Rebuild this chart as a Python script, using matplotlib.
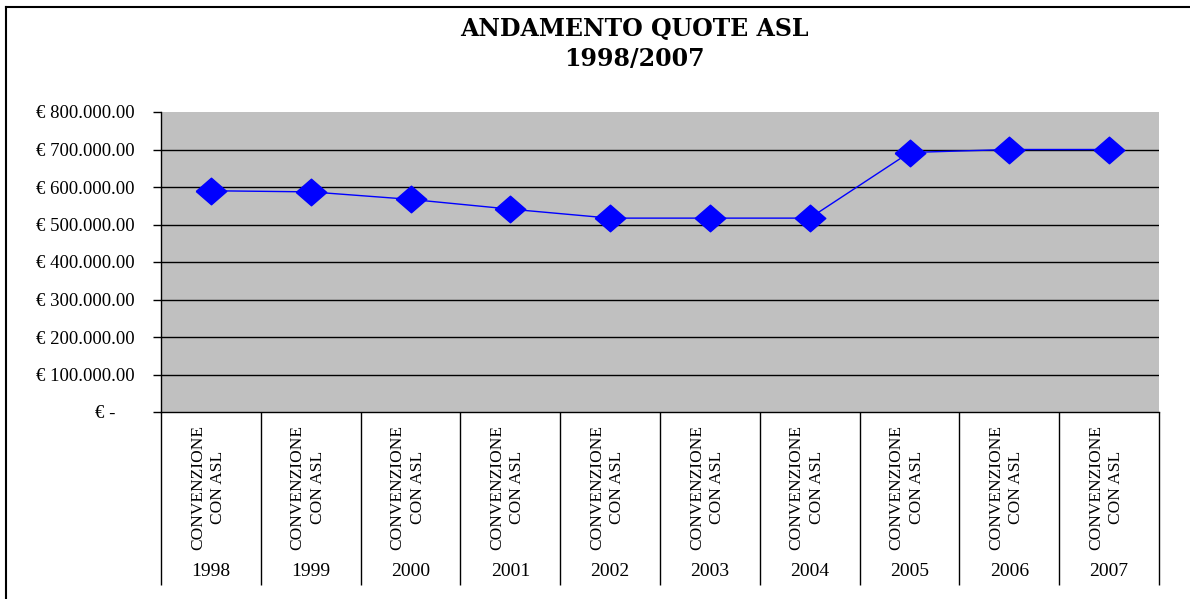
import numpy as np
import matplotlib
matplotlib.use('Agg')
import matplotlib.pyplot as plt
from matplotlib.lines import Line2D

years = ['1998', '1999', '2000', '2001', '2002', '2003', '2004', '2005', '2006', '2007']
category = 'CONVENZIONE\nCON ASL'
quote = [590000, 587000, 567000, 541000, 517000, 517000, 517000, 692000, 700000, 700000]
yticks = [0, 100000, 200000, 300000, 400000, 500000, 600000, 700000, 800000]

W, H = 1190, 599
fig = plt.figure(figsize=(W / 100, H / 100), dpi=100)
plt.rcParams['font.family'] = ['Liberation Serif', 'DejaVu Serif']

# outer chart frame: only the top and left edges are inside the picture
fig.add_artist(Line2D([6 / W, 6 / W], [-0.05, 1 - 7 / H], transform=fig.transFigure,
                      color='black', linewidth=1.5))
fig.add_artist(Line2D([6 / W, 1.05], [1 - 7 / H, 1 - 7 / H], transform=fig.transFigure,
                      color='black', linewidth=1.5))

# plot area in pixel coords: x 161..1159, y 112..412
ax = fig.add_axes([161 / W, (H - 412) / H, 998 / W, 300 / H])
ax.set_facecolor('#c0c0c0')

x = np.arange(len(years))
diamond = [(-1, 0), (0, 0.87), (1, 0), (0, -0.87), (-1, 0)]
ax.plot(x, quote, color='#0000ff', linewidth=1.0, marker=diamond, markersize=22,
        markerfacecolor='#0000ff', markeredgecolor='#0000ff', zorder=3)

ax.set_xlim(-0.5, len(years) - 0.5)
ax.set_ylim(0, 800000)
ax.set_yticks(yticks)
labels = ['€ ' + '{:,}'.format(v).replace(',', '.') + '.00' for v in yticks]
labels[0] = '€ -    '
ax.set_yticklabels(labels, fontsize=13.5)
ax.tick_params(axis='y', length=6, width=1, pad=13, color='black')
ax.tick_params(axis='x', bottom=False, labelbottom=False)

for v in yticks[1:-1]:
    ax.axhline(v, color='black', linewidth=1.0, zorder=1)

for s in ['top', 'right']:
    ax.spines[s].set_visible(False)
ax.spines['left'].set_linewidth(1.0)
ax.spines['bottom'].set_linewidth(1.0)

# multi-level category axis
xt = ax.get_xaxis_transform()
ax.vlines(np.arange(len(years) + 1) - 0.5, -(585 - 412) / 300, 0, transform=xt,
          colors='black', linewidth=1.0, clip_on=False)
for i, yr in enumerate(years):
    ax.text(i - 0.03, -(487 - 412) / 300, category, transform=xt, rotation=90,
            ha='center', va='center', multialignment='center', fontsize=12.5,
            linespacing=1.35)
    ax.text(i, -(572 - 412) / 300, yr, transform=xt, ha='center', va='center', fontsize=14)

fig.text(634 / W, 1 - 29 / H, 'ANDAMENTO QUOTE ASL', ha='center', va='center',
         fontsize=17, fontweight='bold', family=['DejaVu Serif'])
fig.text(634 / W, 1 - 59 / H, '1998/2007', ha='center', va='center',
         fontsize=17, fontweight='bold', family=['DejaVu Serif'])

fig.savefig('out.png', dpi=100)
